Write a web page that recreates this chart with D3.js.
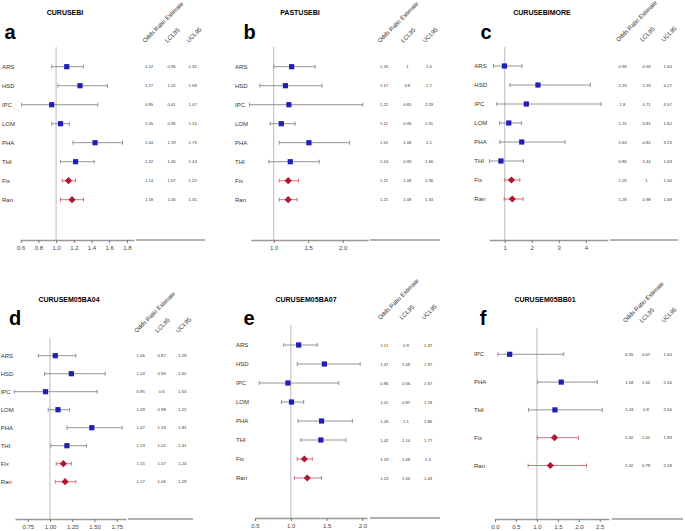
<!DOCTYPE html>
<html>
<head>
<meta charset="utf-8">
<script src="https://cdn.jsdelivr.net/npm/d3@7"></script>
<style>
  body { margin: 0; background: #fff; }
  svg { font-family: "Liberation Sans", Arial, sans-serif; }
</style>
</head>
<body>
<svg id="chart" width="685" height="531"></svg>
<script>
// row labels
const factors = ["ARS", "HSD", "IPC", "LOM", "PHA", "THI", "Fix", "Ran"];
const factorsF = ["IPC", "PHA", "THI", "Fix", "Ran"];
const headers = ["Odds Ratio Estimate", "LCL95", "UCL95"];

// a: CURUSEBI
const orA  = [1.12, 1.27, 0.95, 1.05, 1.44, 1.22, 1.14, 1.18];
const lclA = [0.95, 1.02, 0.61, 0.95, 1.19, 1.05, 1.07, 1.05];
const uclA = [1.31, 1.58, 1.47, 1.15, 1.75, 1.43, 1.22, 1.31];
// b: PASTUSEBI
const orB  = [1.26, 1.17, 1.22, 1.11, 1.51, 1.24, 1.21, 1.21];
const lclB = [1, 0.8, 0.65, 0.95, 1.08, 0.93, 1.08, 1.08];
const uclB = [1.6, 1.7, 2.29, 1.31, 2.1, 1.66, 1.36, 1.34];
// c: CURUSEBIMORE
const orC  = [0.99, 2.23, 1.8, 1.15, 1.63, 0.86, 1.25, 1.28];
const lclC = [0.59, 1.19, 0.71, 0.81, 0.82, 0.44, 1, 0.98];
const uclC = [1.64, 4.17, 4.57, 1.62, 3.23, 1.69, 1.56, 1.68];
// d: CURUSEM05BA04
const orD  = [1.06, 1.24, 0.95, 1.09, 1.47, 1.19, 1.15, 1.17];
const lclD = [0.87, 0.94, 0.6, 0.98, 1.19, 1.01, 1.07, 1.06];
const uclD = [1.29, 1.62, 1.53, 1.22, 1.81, 1.41, 1.24, 1.29];
// e: CURUSEM05BA07
const orE  = [1.11, 1.47, 0.96, 1.01, 1.43, 1.42, 1.19, 1.23];
const lclE = [0.9, 1.09, 0.56, 0.87, 1.1, 1.14, 1.09, 1.05];
const uclE = [1.37, 1.97, 1.67, 1.18, 1.86, 1.77, 1.3, 1.43];
// f: CURUSEM05BB01
const orF  = [0.35, 1.58, 1.43, 1.42, 1.32];
const lclF = [0.07, 1.02, 0.8, 1.01, 0.79];
const uclF = [1.64, 2.44, 2.56, 1.99, 2.18];

const ticksA = [0.6, 0.8, 1.0, 1.2, 1.4, 1.6, 1.8];
const ticksB = [1.0, 1.5, 2.0];
const ticksC = [1, 2, 3, 4];
const ticksD = [0.75, 1.0, 1.25, 1.5, 1.75];
const ticksE = [0.5, 1.0, 1.5, 2.0];
const ticksF = [0, 0.5, 1.0, 1.5, 2.0, 2.5];

const panels = [
  { title: "CURUSEBI", letter: "a", labels: factors, or: orA, lcl: lclA, ucl: uclA,
    ticks: ticksA, fmt: ".1f", domain: [0.6, 1.88], range: [20.7, 134],
    labelX: 2, rowY: 66.7, rowStep: 19, axisY: 240, lineTop: 47,
    cols: [149, 171.5, 192.7], tableLine: [136, 205], headY: 43,
    titleX: 65, titleY: 14.5, letterX: 10, letterY: 38.5 },
  { title: "PASTUSEBI", letter: "b", labels: factors, or: orB, lcl: lclB, ucl: uclB,
    ticks: ticksB, fmt: ".1f", domain: [0.667, 2.37], range: [250.7, 368.3],
    labelX: 235, rowY: 66.7, rowStep: 19, axisY: 240, lineTop: 47,
    cols: [384, 407.3, 429], tableLine: [370, 440], headY: 43,
    titleX: 300, titleY: 14.5, letterX: 249.5, letterY: 38.5 },
  { title: "CURUSEBIMORE", letter: "c", labels: factors, or: orC, lcl: lclC, ucl: uclC,
    ticks: ticksC, fmt: "d", domain: [0.43, 4.81], range: [489.3, 607.7],
    labelX: 474.3, rowY: 66, rowStep: 19, axisY: 240, lineTop: 47,
    cols: [622.5, 646.5, 667.7], tableLine: [610, 678], headY: 42,
    titleX: 542, titleY: 14.5, letterX: 486, letterY: 38.5 },
  { title: "CURUSEM05BA04", letter: "d", labels: factors, or: orD, lcl: lclD, ucl: uclD,
    ticks: ticksD, fmt: ".2f", domain: [0.607, 1.854], range: [15, 126],
    labelX: 0.7, rowY: 355.7, rowStep: 18, axisY: 519, lineTop: 337.7,
    cols: [140.7, 161.7, 182.3], tableLine: [128, 193], headY: 333,
    titleX: 69, titleY: 302, letterX: 15, letterY: 324.5 },
  { title: "CURUSEM05BA07", letter: "e", labels: factors, or: orE, lcl: lclE, ucl: uclE,
    ticks: ticksE, fmt: ".1f", domain: [0.5, 2.065], range: [255, 367],
    labelX: 236, rowY: 345, rowStep: 19, axisY: 518, lineTop: 325,
    cols: [384.3, 406, 428], tableLine: [370, 440], headY: 320,
    titleX: 306, titleY: 302, letterX: 249, letterY: 324.5 },
  { title: "CURUSEM05BB01", letter: "f", labels: factorsF, or: orF, lcl: lclF, ucl: uclF,
    ticks: ticksF, fmt: ".1f", domain: [0, 2.72], range: [495, 609],
    labelX: 474, rowY: 354.3, rowStep: 27.8, axisY: 519, lineTop: 327.7,
    cols: [629.3, 646, 667.7], tableLine: [611.7, 683], headY: 323,
    titleX: 545, titleY: 302, letterX: 483, letterY: 324.5 }
];

const blue = "#1f1fb8";
const red = "#b3152f";

const svg = d3.select("#chart");

function drawPanel(p) {
  const g = svg.append("g");
  const x = d3.scaleLinear().domain(p.domain).range(p.range);
  const rows = p.labels.map((label, i) => ({
    label, or: p.or[i], lcl: p.lcl[i], ucl: p.ucl[i],
    pooled: label === "Fix" || label === "Ran"
  }));
  const y = i => p.rowY + i * p.rowStep;

  g.append("text")
    .attr("x", p.titleX).attr("y", p.titleY)
    .attr("text-anchor", "middle")
    .style("font-size", "7px").style("font-weight", "bold")
    .text(p.title);

  g.append("text")
    .attr("x", p.letterX).attr("y", p.letterY)
    .attr("text-anchor", "middle")
    .style("font-size", "20px").style("font-weight", "bold")
    .text(p.letter);

  // reference line at OR = 1
  g.append("line")
    .attr("x1", x(1)).attr("x2", x(1))
    .attr("y1", p.lineTop).attr("y2", p.axisY)
    .attr("stroke", "#bbb").attr("stroke-width", 1);

  // axis
  const axis = d3.axisBottom(x).tickValues(p.ticks)
    .tickFormat(d3.format(p.fmt)).tickSize(3).tickSizeOuter(0);
  const ax = g.append("g")
    .attr("transform", `translate(0,${p.axisY})`)
    .call(axis);
  ax.select(".domain").attr("stroke", "#999").attr("stroke-width", 1.3);
  ax.selectAll(".tick line").attr("stroke", "#777");
  ax.selectAll(".tick text")
    .attr("fill", "#444").style("font-size", "6px")
    .style("font-family", "'Liberation Sans', Arial, sans-serif");

  g.append("line")
    .attr("x1", p.tableLine[0]).attr("x2", p.tableLine[1])
    .attr("y1", p.axisY).attr("y2", p.axisY)
    .attr("stroke", "#999").attr("stroke-width", 1.3);

  // row labels
  g.selectAll(".lab").data(rows).enter().append("text")
    .attr("x", p.labelX).attr("y", (d, i) => y(i) + 2)
    .attr("fill", "#333").style("font-size", "6px")
    .text(d => d.label);

  // CI lines and caps
  const ci = g.selectAll(".ci").data(rows).enter().append("g")
    .attr("stroke", d => d.pooled ? "#d4606f" : "#888")
    .attr("stroke-width", 0.9);
  ci.append("line")
    .attr("x1", d => x(d.lcl)).attr("x2", d => x(d.ucl))
    .attr("y1", (d, i) => y(i)).attr("y2", (d, i) => y(i));
  ci.append("line")
    .attr("x1", d => x(d.lcl)).attr("x2", d => x(d.lcl))
    .attr("y1", (d, i) => y(i) - 2).attr("y2", (d, i) => y(i) + 2);
  ci.append("line")
    .attr("x1", d => x(d.ucl)).attr("x2", d => x(d.ucl))
    .attr("y1", (d, i) => y(i) - 2).attr("y2", (d, i) => y(i) + 2);

  // point estimates
  g.selectAll(".pt").data(rows).enter().append("path")
    .attr("transform", (d, i) => `translate(${x(d.or)},${y(i)})`)
    .attr("d", d => d.pooled ? "M0,-3.6L3.6,0L0,3.6L-3.6,0Z" : "M-2.6,-2.6H2.6V2.6H-2.6Z")
    .attr("fill", d => d.pooled ? red : blue);

  // table headers
  headers.forEach((h, j) => {
    g.append("text")
      .attr("transform", `translate(${p.cols[j] - 4},${p.headY}) rotate(-45)`)
      .attr("fill", "#333").style("font-size", "6px")
      .text(h);
  });

  // table values
  ["or", "lcl", "ucl"].forEach((k, j) => {
    g.selectAll(".v" + k).data(rows).enter().append("text")
      .attr("x", p.cols[j]).attr("y", (d, i) => y(i) + 1.5)
      .attr("text-anchor", "middle")
      .attr("fill", "#333").style("font-size", "4.2px")
      .text(d => String(d[k]));
  });
}

panels.forEach(drawPanel);
</script>
</body>
</html>
